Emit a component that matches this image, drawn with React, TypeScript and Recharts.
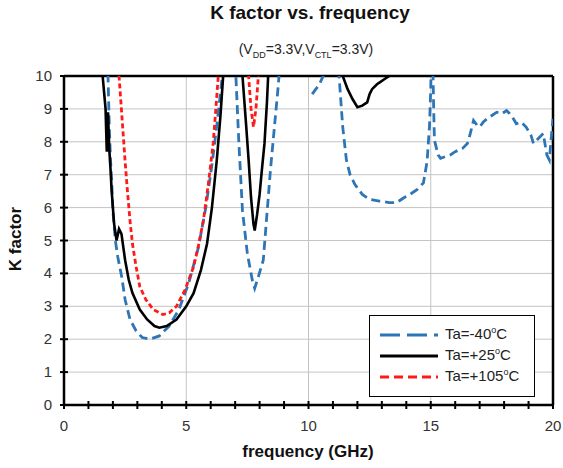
import React from "react"
import { LineChart, Line, XAxis, YAxis, CartesianGrid, ReferenceLine } from "recharts"

// K factor readings (values above 10 run off the top of the plot, null breaks a trace)
const minus40: { f: number; k: number | null }[] = [
  { f: 1.7, k: 10.5 }, { f: 1.8, k: 10 }, { f: 1.85, k: 8.5 }, { f: 1.9, k: 7.5 },
  { f: 1.95, k: 6.8 }, { f: 2.0, k: 5.9 }, { f: 2.1, k: 5.0 }, { f: 2.2, k: 4.5 }, { f: 2.36, k: 3.9 },
  { f: 2.5, k: 3.2 }, { f: 2.7, k: 2.6 }, { f: 2.95, k: 2.25 }, { f: 3.2, k: 2.05 },
  { f: 3.5, k: 2.0 }, { f: 3.9, k: 2.1 }, { f: 4.3, k: 2.4 }, { f: 4.7, k: 2.9 },
  { f: 5.1, k: 3.7 }, { f: 5.5, k: 4.8 }, { f: 5.8, k: 6.0 }, { f: 6.05, k: 7.3 },
  { f: 6.25, k: 8.5 }, { f: 6.4, k: 9.5 }, { f: 6.55, k: 10.5 },
  { f: 6.9, k: 10.5 }, { f: 7.03, k: 10 }, { f: 7.15, k: 8.0 }, { f: 7.3, k: 5.9 },
  { f: 7.5, k: 4.6 }, { f: 7.7, k: 3.8 }, { f: 7.8, k: 3.55 }, { f: 7.95, k: 3.9 },
  { f: 8.15, k: 4.4 }, { f: 8.3, k: 5.8 }, { f: 8.45, k: 7.2 }, { f: 8.55, k: 8.0 },
  { f: 8.75, k: 9.6 }, { f: 8.85, k: 10.5 },
  { f: 9.5, k: null },
  { f: 10.15, k: 9.45 }, { f: 10.3, k: 9.6 }, { f: 10.45, k: 9.75 }, { f: 10.6, k: 10 },
  { f: 10.8, k: 10.5 },
  { f: 11.1, k: 10.5 }, { f: 11.25, k: 10 }, { f: 11.4, k: 8.45 }, { f: 11.55, k: 7.45 },
  { f: 11.7, k: 7.0 }, { f: 11.9, k: 6.7 }, { f: 12.2, k: 6.4 }, { f: 12.5, k: 6.25 },
  { f: 12.9, k: 6.2 }, { f: 13.3, k: 6.15 }, { f: 13.6, k: 6.15 }, { f: 13.9, k: 6.3 },
  { f: 14.15, k: 6.4 }, { f: 14.45, k: 6.55 }, { f: 14.7, k: 6.75 }, { f: 14.85, k: 7.4 },
  { f: 14.95, k: 8.5 }, { f: 15.0, k: 9.6 }, { f: 15.02, k: 10.5 },
  { f: 15.08, k: 10.5 }, { f: 15.12, k: 9.0 }, { f: 15.15, k: 8.05 }, { f: 15.3, k: 7.6 },
  { f: 15.4, k: 7.5 }, { f: 15.6, k: 7.55 }, { f: 15.8, k: 7.6 }, { f: 16.0, k: 7.7 },
  { f: 16.3, k: 7.8 }, { f: 16.5, k: 7.95 }, { f: 16.6, k: 8.2 }, { f: 16.75, k: 8.65 },
  { f: 16.9, k: 8.5 }, { f: 17.0, k: 8.45 }, { f: 17.15, k: 8.6 }, { f: 17.3, k: 8.7 },
  { f: 17.5, k: 8.8 }, { f: 17.7, k: 8.9 }, { f: 17.9, k: 8.85 }, { f: 18.1, k: 8.95 },
  { f: 18.3, k: 8.8 }, { f: 18.5, k: 8.55 }, { f: 18.7, k: 8.6 }, { f: 18.9, k: 8.45 },
  { f: 19.1, k: 8.2 }, { f: 19.2, k: 7.95 }, { f: 19.4, k: 8.1 }, { f: 19.6, k: 8.25 },
  { f: 19.75, k: 7.6 }, { f: 19.85, k: 7.45 }, { f: 19.95, k: 8.3 }, { f: 20.0, k: 8.7 },
]

const plus25: { f: number; k: number }[] = [
  { f: 1.5, k: 10.5 }, { f: 1.58, k: 10 }, { f: 1.7, k: 9.0 }, { f: 1.75, k: 7.7 },
  { f: 1.8, k: 8.9 }, { f: 1.85, k: 7.8 }, { f: 1.9, k: 7.2 }, { f: 1.95, k: 6.5 },
  { f: 2.05, k: 5.5 }, { f: 2.15, k: 5.0 }, { f: 2.25, k: 5.35 }, { f: 2.35, k: 5.2 },
  { f: 2.5, k: 4.4 }, { f: 2.65, k: 3.8 }, { f: 2.8, k: 3.4 }, { f: 3.1, k: 2.9 },
  { f: 3.4, k: 2.6 }, { f: 3.7, k: 2.4 }, { f: 3.9, k: 2.35 }, { f: 4.2, k: 2.4 },
  { f: 4.6, k: 2.6 }, { f: 5.0, k: 3.0 }, { f: 5.3, k: 3.4 }, { f: 5.6, k: 4.1 },
  { f: 5.85, k: 4.9 }, { f: 6.05, k: 6.0 }, { f: 6.25, k: 7.45 }, { f: 6.4, k: 8.8 },
  { f: 6.5, k: 9.9 }, { f: 6.55, k: 10.5 },
  { f: 7.2, k: 10.5 }, { f: 7.3, k: 10 }, { f: 7.45, k: 8.5 }, { f: 7.55, k: 7.45 },
  { f: 7.65, k: 6.3 }, { f: 7.75, k: 5.5 }, { f: 7.8, k: 5.3 }, { f: 7.9, k: 5.8 },
  { f: 8.0, k: 6.4 }, { f: 8.1, k: 7.2 }, { f: 8.2, k: 7.95 }, { f: 8.3, k: 9.2 },
  { f: 8.35, k: 10 }, { f: 8.4, k: 10.5 },
  { f: 11.3, k: 10.5 }, { f: 11.4, k: 10 }, { f: 11.6, k: 9.6 }, { f: 11.8, k: 9.3 },
  { f: 12.0, k: 9.05 }, { f: 12.2, k: 9.1 }, { f: 12.4, k: 9.2 }, { f: 12.5, k: 9.45 },
  { f: 12.6, k: 9.6 }, { f: 12.8, k: 9.75 }, { f: 12.9, k: 9.8 }, { f: 13.1, k: 9.9 },
  { f: 13.3, k: 10 }, { f: 13.4, k: 10.5 },
]

const plus105: { f: number; k: number }[] = [
  { f: 2.2, k: 10.5 }, { f: 2.25, k: 10 }, { f: 2.4, k: 8.45 }, { f: 2.5, k: 7.4 },
  { f: 2.6, k: 6.45 }, { f: 2.7, k: 5.6 }, { f: 2.8, k: 4.9 }, { f: 2.95, k: 4.2 },
  { f: 3.1, k: 3.6 }, { f: 3.35, k: 3.2 }, { f: 3.65, k: 2.9 }, { f: 4.05, k: 2.75 },
  { f: 4.3, k: 2.8 }, { f: 4.6, k: 3.0 }, { f: 4.95, k: 3.5 }, { f: 5.3, k: 4.2 },
  { f: 5.5, k: 4.85 }, { f: 5.7, k: 5.6 }, { f: 5.9, k: 6.7 }, { f: 6.1, k: 7.95 },
  { f: 6.2, k: 8.9 }, { f: 6.3, k: 9.9 }, { f: 6.35, k: 10.5 },
  { f: 7.45, k: 10.5 }, { f: 7.55, k: 10 }, { f: 7.65, k: 9.0 }, { f: 7.75, k: 8.45 },
  { f: 7.85, k: 9.0 }, { f: 7.95, k: 10 }, { f: 8.0, k: 10.5 },
]

const xTicks = Array.from({ length: 21 }, (_, i) => i)
const yTicks = Array.from({ length: 11 }, (_, i) => i)
const xGrid = [5, 10, 15]

const W = 563
const H = 468
const margin = { top: 76, right: 10, bottom: 33, left: 0 }
const X_AXIS_H = 30
const Y_AXIS_W = 64
const PLOT_LEFT = margin.left + Y_AXIS_W
const PLOT_BOTTOM = H - margin.bottom - X_AXIS_H

const font = "'Liberation Sans', Arial, sans-serif"
const BLUE = "#2e75b6"
const RED = "#ff1a1a"

const XTick = (props: any) => {
  const { x, payload } = props
  const v = payload.value
  return (
    <g>
      <line x1={x} x2={x} y1={PLOT_BOTTOM - 4} y2={PLOT_BOTTOM + 4} stroke="#000" strokeWidth={2} />
      {v % 5 === 0 && (
        <text x={x} y={PLOT_BOTTOM + 26} textAnchor="middle" fontSize={15} fontFamily={font} fill="#333">
          {v}
        </text>
      )}
    </g>
  )
}

const YTick = (props: any) => {
  const { y, payload } = props
  return (
    <g>
      <line x1={PLOT_LEFT - 4} x2={PLOT_LEFT + 4} y1={y} y2={y} stroke="#000" strokeWidth={2} />
      <text x={PLOT_LEFT - 12} y={y + 5} textAnchor="end" fontSize={15} fontFamily={font} fill="#333">
        {payload.value}
      </text>
    </g>
  )
}

const legendRows = [
  { label: "Ta=-40", color: BLUE, dash: "20 7", width: 3 },
  { label: "Ta=+25", color: "#000", dash: "", width: 3 },
  { label: "Ta=+105", color: RED, dash: "9 5", width: 3 },
]

export default function App() {
  return (
    <div style={{ position: "absolute", left: 0, top: 0, width: W, height: H, background: "#fff", fontFamily: font }}>
      <div style={{ position: "absolute", left: 110, width: 400, top: 2, textAlign: "center", fontSize: 19, fontWeight: "bold", color: "#111" }}>
        K factor vs. frequency
      </div>
      <div style={{ position: "absolute", left: 106, width: 400, top: 41, textAlign: "center", fontSize: 14, color: "#222" }}>
        (V<sub style={{ fontSize: 9 }}>DD</sub>=3.3V,V<sub style={{ fontSize: 9 }}>CTL</sub>=3.3V)
      </div>
      <LineChart width={W} height={H} data={minus40} margin={margin}>
        <CartesianGrid vertical={false} stroke="#c4c4c4" strokeWidth={1} />
        {xGrid.map((g) => (
          <ReferenceLine key={g} x={g} stroke="#c4c4c4" strokeWidth={1} />
        ))}
        <XAxis
          type="number"
          dataKey="f"
          domain={[0, 20]}
          ticks={xTicks}
          interval={0}
          height={X_AXIS_H}
          allowDataOverflow
          axisLine={{ stroke: "#000", strokeWidth: 2.5 }}
          tickLine={false}
          tick={<XTick />}
        />
        <YAxis
          type="number"
          domain={[0, 10]}
          ticks={yTicks}
          interval={0}
          width={Y_AXIS_W}
          allowDataOverflow
          axisLine={{ stroke: "#000", strokeWidth: 2.5 }}
          tickLine={false}
          tick={<YTick />}
        />
        <ReferenceLine y={10} stroke="#000" strokeWidth={2.5} />
        <ReferenceLine x={20} stroke="#000" strokeWidth={2.5} />
        <Line data={minus40} dataKey="k" stroke={BLUE} strokeWidth={2.8} strokeDasharray="9 5" dot={false} connectNulls={false} isAnimationActive={false} />
        <Line data={plus105} dataKey="k" stroke={RED} strokeWidth={2.8} strokeDasharray="5 3" dot={false} isAnimationActive={false} />
        <Line data={plus25} dataKey="k" stroke="#000" strokeWidth={2.6} dot={false} isAnimationActive={false} />
      </LineChart>
      <div style={{ position: "absolute", left: 6, top: 240, width: 24, height: 0 }}>
        <div style={{ position: "absolute", left: -40, top: -11, width: 100, textAlign: "center", transform: "rotate(-90deg)", fontSize: 17, fontWeight: "bold", color: "#111", whiteSpace: "nowrap" }}>
          K factor
        </div>
      </div>
      <div style={{ position: "absolute", left: 108, width: 400, top: 442, textAlign: "center", fontSize: 17, fontWeight: "bold", color: "#111" }}>
        frequency (GHz)
      </div>
      <div style={{ position: "absolute", left: 369, top: 315, width: 164, height: 80, border: "1.5px solid #000", background: "#fff" }}>
        {legendRows.map((r, i) => (
          <div key={r.label} style={{ position: "absolute", left: 0, top: 8 + i * 21, height: 20, width: 164 }}>
            <svg width={62} height={20} style={{ position: "absolute", left: 10, top: 0 }}>
              <line x1={0} x2={58} y1={11} y2={11} stroke={r.color} strokeWidth={r.width} strokeDasharray={r.dash} />
            </svg>
            <span style={{ position: "absolute", left: 75, top: 1, fontSize: 15, color: "#222", whiteSpace: "nowrap" }}>
              {r.label}
              <sup style={{ fontSize: 9 }}>o</sup>C
            </span>
          </div>
        ))}
      </div>
    </div>
  )
}
